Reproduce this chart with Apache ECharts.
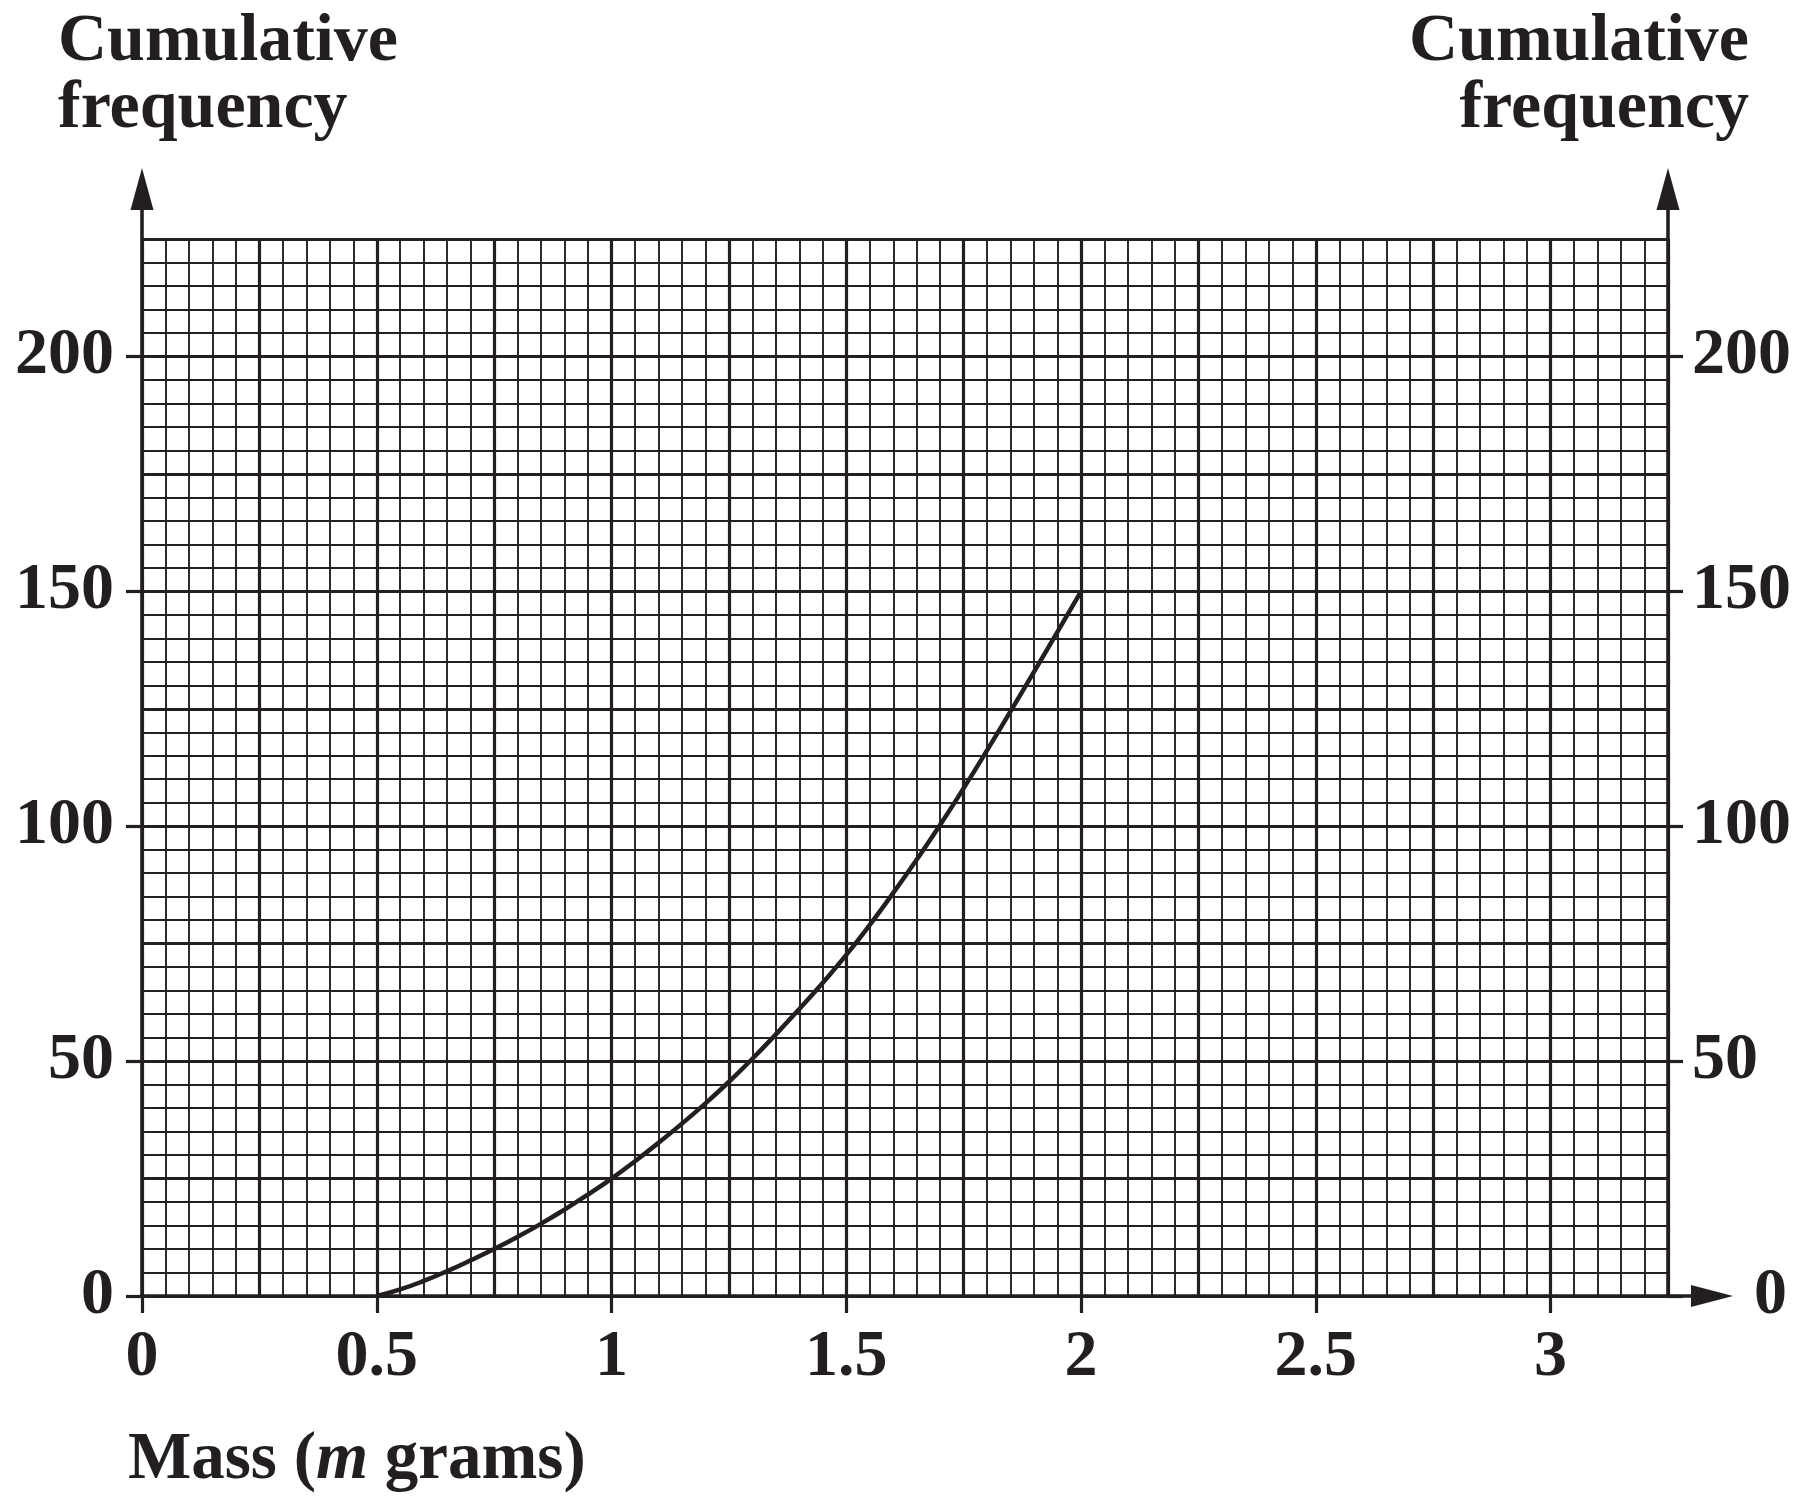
<!DOCTYPE html>
<html>
<head>
<meta charset="utf-8">
<script src="https://cdn.jsdelivr.net/npm/echarts@6/dist/echarts.min.js"></script>
<style>
html,body{margin:0;padding:0;background:#fff;}
#chart{width:1818px;height:1503px;}
</style>
</head>
<body>
<div id="chart"></div>
<script>
// Data
var masses = [0.5, 0.55, 0.6, 0.65, 0.7, 0.75, 0.8, 0.85, 0.9, 0.95, 1.0,
              1.05, 1.1, 1.15, 1.2, 1.25, 1.3, 1.35, 1.4, 1.45, 1.5,
              1.55, 1.6, 1.65, 1.7, 1.75, 1.8, 1.85, 1.9, 1.95, 2.0];
var cumFreq = [0, 1.4, 3.2, 5.3, 7.6, 10.0, 12.6, 15.4, 18.4, 21.6, 25.0,
               28.7, 32.6, 36.7, 41.0, 45.6, 50.5, 55.7, 61.1, 66.7, 72.6,
               79.0, 85.8, 92.9, 100.3, 108.1, 116.2, 124.5, 132.9, 141.4, 150.0];
var xTickLabels = [0, 0.5, 1, 1.5, 2, 2.5, 3];
var yTickLabels = [0, 50, 100, 150, 200];
var yTitle = 'Cumulative\nfrequency';

var INK = '#231f20';
var FONT = 'Liberation Serif';
var chart = echarts.init(document.getElementById('chart'));

var points = masses.map(function (m, i) { return [m, cumFreq[i]]; });

var labelStyle = { color: INK, fontFamily: FONT, fontWeight: 'bold', fontSize: 66 };
var hiddenAxis = function (gi) { return { gridIndex: gi, show: false, type: 'value', min: 0, max: 1 }; };

chart.setOption({
  animation: false,
  backgroundColor: '#fff',
  title: [
    { text: yTitle, left: 58, top: 9, padding: 0,
      textStyle: { color: INK, fontFamily: FONT, fontWeight: 'bold', fontSize: 68, lineHeight: 67 } },
    { text: yTitle, left: 1749, top: 9, padding: 0, textAlign: 'right',
      textStyle: { color: INK, fontFamily: FONT, fontWeight: 'bold', fontSize: 68, lineHeight: 67 } },
    { text: '{a|Mass (}{i|m}{a| grams)}', left: 128, top: 1428, padding: 0,
      textStyle: { rich: {
        a: { color: INK, fontFamily: FONT, fontWeight: 'bold', fontSize: 67, lineHeight: 66 },
        i: { color: INK, fontFamily: FONT, fontWeight: 'bold', fontStyle: 'italic', fontSize: 67, lineHeight: 66 }
      } } }
  ],
  grid: [
    { left: 142, right: 150, top: 239, bottom: 207 },        // 0 main graph paper
    { left: 142, right: 267.4, top: 239, bottom: 207 },      // 1 x labels 0..3
    { left: 142, right: 150, top: 356.4, bottom: 207 },      // 2 y labels 0..200
    { left: 142, right: 106, top: 239, bottom: 207 },        // 3 x arrow
    { left: 142, right: 150, top: 189, bottom: 207 }         // 4 y arrows
  ],
  xAxis: [
    { gridIndex: 0, type: 'value', min: 0, max: 3.25, interval: 0.25,
      axisLine: { show: false }, axisTick: { show: false }, axisLabel: { show: false },
      splitLine: { show: true, lineStyle: { color: INK, width: 3.2 } },
      minorTick: { show: false, splitNumber: 5 },
      minorSplitLine: { show: true, lineStyle: { color: INK, width: 1.9 } } },
    { gridIndex: 1, type: 'value', min: 0, max: 3, interval: 0.5, position: 'bottom',
      axisLine: { show: false },
      axisTick: { show: true, inside: false, length: 17, lineStyle: { color: INK, width: 3.2 } },
      axisLabel: Object.assign({ margin: 29, formatter: function (v) {
        return xTickLabels.indexOf(v) >= 0 ? String(v) : ''; } }, labelStyle),
      splitLine: { show: false } },
    { gridIndex: 3, type: 'value', min: 0, max: 1, position: 'bottom',
      axisLine: { show: true, symbol: ['none', 'triangle'], symbolSize: [22, 42],
        lineStyle: { color: INK, width: 3.6 } },
      axisTick: { show: false }, axisLabel: { show: false }, splitLine: { show: false } },
    hiddenAxis(2),
    hiddenAxis(4)
  ],
  yAxis: [
    { gridIndex: 0, type: 'value', min: 0, max: 225, interval: 25,
      axisLine: { show: false }, axisTick: { show: false }, axisLabel: { show: false },
      splitLine: { show: true, lineStyle: { color: INK, width: 3.2 } },
      minorTick: { show: false, splitNumber: 5 },
      minorSplitLine: { show: true, lineStyle: { color: INK, width: 1.9 } } },
    { gridIndex: 2, type: 'value', min: 0, max: 200, interval: 50, position: 'left',
      axisLine: { show: false },
      axisTick: { show: true, inside: false, length: 16, lineStyle: { color: INK, width: 3.2 } },
      axisLabel: Object.assign({ margin: 28, formatter: function (v) {
        return yTickLabels.indexOf(v) >= 0 ? String(v) : ''; } }, labelStyle),
      splitLine: { show: false } },
    { gridIndex: 2, type: 'value', min: 0, max: 200, interval: 50, position: 'right',
      axisLine: { show: false },
      axisTick: { show: true, inside: false, length: 15, lineStyle: { color: INK, width: 3.2 } },
      axisLabel: Object.assign({ margin: 24, formatter: function (v) {
        if (v === 0) return '{z|0}';
        return yTickLabels.indexOf(v) >= 0 ? String(v) : ''; },
        rich: { z: { color: INK, fontFamily: FONT, fontWeight: 'bold', fontSize: 66, padding: [0, 0, 0, 62] } } }, labelStyle),
      splitLine: { show: false } },
    { gridIndex: 4, type: 'value', min: 0, max: 1, position: 'left',
      axisLine: { show: true, symbol: ['none', 'triangle'], symbolSize: [23, 42],
        lineStyle: { color: INK, width: 3.6 } },
      axisTick: { show: false }, axisLabel: { show: false }, splitLine: { show: false } },
    { gridIndex: 4, type: 'value', min: 0, max: 1, position: 'right',
      axisLine: { show: true, symbol: ['none', 'triangle'], symbolSize: [23, 42],
        lineStyle: { color: INK, width: 3.6 } },
      axisTick: { show: false }, axisLabel: { show: false }, splitLine: { show: false } },
    hiddenAxis(1),
    hiddenAxis(3)
  ],
  series: [
    { type: 'line', xAxisIndex: 0, yAxisIndex: 0, data: points, smooth: true,
      showSymbol: false, symbol: 'none', z: 5,
      lineStyle: { color: INK, width: 4.5 } }
  ]
});
</script>
</body>
</html>
